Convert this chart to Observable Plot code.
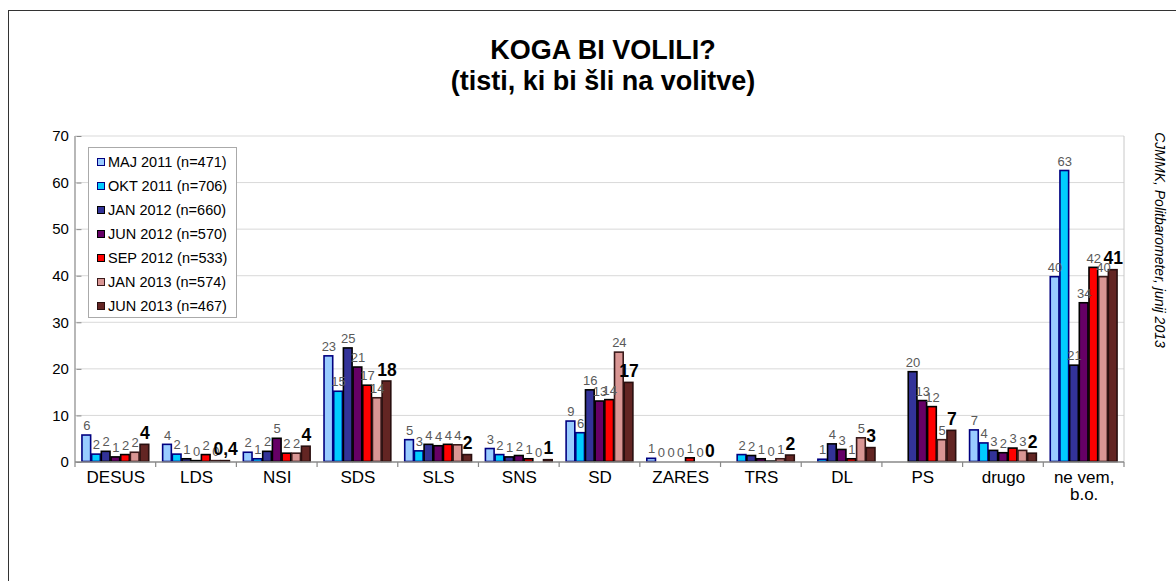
<!DOCTYPE html>
<html>
<head>
<meta charset="utf-8">
<script src="https://cdn.jsdelivr.net/npm/d3@7"></script>
<script src="https://cdn.jsdelivr.net/npm/@observablehq/plot@0.6"></script>
<style>
  body { margin: 0; background: #fff; font-family: "Liberation Sans", Arial, sans-serif; }
  #wrap { position: relative; width: 1176px; height: 581px; overflow: hidden; }
  #border { position: absolute; left: 8px; top: 10px; width: 1200px; height: 600px; border: 1px solid #333; }
  .title { position: absolute; left: 0; width: 1206px; text-align: center; font-weight: bold; font-size: 27px; color: #000; line-height: 30px; }
  #chart { position: absolute; left: 0; top: 0; }
  #legend { position: absolute; left: 88px; top: 147px; width: 149px; height: 171px; background: #fff; border: 1px solid #aaa; box-sizing: border-box; padding: 2px 0 0 8px; }
  .li { height: 24px; display: flex; align-items: center; font-size: 14.5px; color: #000; white-space: nowrap; }
  .sw { width: 6px; height: 6px; margin-right: 3px; border: 1.5px solid #000; flex: none; }
  #source { position: absolute; left: 1160px; top: 240px; transform: translate(-50%, -50%) rotate(90deg); white-space: nowrap; font-size: 14px; font-style: italic; color: #000; }
</style>
</head>
<body>
<div id="wrap">
  <div id="border"></div>
  <div id="chart"></div>
  <div class="title" style="top:35px">KOGA BI VOLILI?</div>
  <div class="title" style="top:66px">(tisti, ki bi šli na volitve)</div>
  <div id="legend"></div>
  <div id="source">CJMMK, Politbarometer, junij 2013</div>
</div>
<script>
const parties = ["DESUS", "LDS", "NSI", "SDS", "SLS", "SNS", "SD", "ZARES", "TRS", "DL", "PS", "drugo", "ne vem, b.o."];
const series = ["MAJ 2011 (n=471)", "OKT 2011 (n=706)", "JAN 2012 (n=660)", "JUN 2012 (n=570)", "SEP 2012 (n=533)", "JAN 2013 (n=574)", "JUN 2013 (n=467)"];

const maj2011 = [5.9, 3.9, 2.2, 22.9, 4.9, 3.0, 8.9, 0.9, null, null, null, 7.0, 39.9];
const okt2011 = [1.8, 1.8, 0.8, 15.3, 2.5, 1.7, 6.4, 0.2, 1.7, 0.7, null, 4.2, 62.7];
const jan2012 = [2.4, 0.8, 2.4, 24.6, 3.9, 1.2, 15.6, 0.1, 1.5, 4.0, 19.5, 2.6, 20.9];
const jun2012 = [1.2, 0.4, 5.2, 20.5, 3.6, 1.5, 13.2, 0.1, 0.8, 2.8, 13.3, 2.1, 34.3];
const sep2012 = [1.7, 1.7, 2.0, 16.6, 3.9, 0.8, 13.5, 1.0, 0.3, 0.8, 12.0, 3.1, 41.9];
const jan2013 = [2.2, 0.4, 2.0, 13.9, 3.8, 0.2, 23.7, 0.1, 0.8, 5.3, 4.9, 2.6, 39.9];
const jun2013 = [3.9, 0.4, 3.5, 17.5, 1.7, 0.6, 17.2, 0.0, 1.6, 3.2, 6.9, 2.0, 41.4];

const yTicks = [0, 10, 20, 30, 40, 50, 60, 70];
const fills = ["#99ccff", "#00ccff", "#333399", "#660066", "#ff0000", "#d99694", "#632523"];
const strokes = ["#000080", "#000080", "#000000", "#000000", "#000000", "#3a1a1a", "#2a0f0f"];

const seriesValues = [maj2011, okt2011, jan2012, jun2012, sep2012, jan2013, jun2013];
const data = [];
series.forEach((s, si) => {
  parties.forEach((p, pi) => {
    const v = seriesValues[si][pi];
    if (v != null) data.push({party: p, series: s, value: v, si});
  });
});
const lastSeries = series[series.length - 1];
const fmt = d => (d.series === lastSeries && d.value > 0 && d.value < 0.5)
  ? d3.format(".1f")(d.value).replace(".", ",")
  : String(Math.round(d.value));

const plot = Plot.plot({
  width: 1176,
  height: 530,
  marginTop: 136,
  marginBottom: 68,
  marginLeft: 75,
  marginRight: 52,
  style: {fontFamily: "'Liberation Sans', Arial, sans-serif", background: "transparent"},
  fx: {domain: parties, paddingInner: 0.16, paddingOuter: 0.08, round: false, label: null},
  x: {domain: series, padding: 0, round: false, axis: null},
  y: {domain: [0, 70], ticks: yTicks, label: null},
  color: {domain: series, range: fills},
  marks: [
    Plot.axisY({ticks: yTicks, tickSize: 5, tickPadding: 8, fontSize: 15, fill: "#000", stroke: "#888"}),
    Plot.axisFx({anchor: "bottom", tickSize: 0, tickPadding: 8, fontSize: 17, fill: "#000", lineHeight: 1.0,
      tickFormat: d => d === "ne vem, b.o." ? "ne vem,\nb.o." : d}),
    Plot.barY(data, {fx: "party", x: "series", y: "value", fill: "series",
      stroke: d => strokes[d.si], strokeWidth: 1.6, inset: 0.5}),
    Plot.text(data.filter(d => d.series !== lastSeries), {fx: "party", x: "series", y: "value", text: fmt,
      dy: -9, fill: "#595959", fontSize: 13}),
    Plot.text(data.filter(d => d.series === lastSeries), {fx: "party", x: "series", y: "value", text: fmt,
      dy: -11, fill: "#000", fontSize: 17.5, fontWeight: "bold"})
  ]
});
document.getElementById("chart").appendChild(plot);

// continuous gridlines, plot-area border and axis lines drawn from the plot's scales
const fxs = plot.scale("fx");
const ys = plot.scale("y");
const left = fxs.range[0], right = fxs.range[1];
const y0 = ys.apply(0), yTop = ys.apply(70);
const svg = d3.select(plot);
const back = svg.insert("g", "g");
back.selectAll("line").data(yTicks.filter(t => t > 0)).join("line")
  .attr("x1", left).attr("x2", right)
  .attr("y1", d => ys.apply(d)).attr("y2", d => ys.apply(d))
  .attr("stroke", "#d9d9d9").attr("stroke-width", 1);
back.append("line").attr("x1", right).attr("x2", right).attr("y1", yTop).attr("y2", y0)
  .attr("stroke", "#c8c8c8").attr("stroke-width", 1);
const front = svg.append("g");
front.append("line").attr("x1", left).attr("x2", right).attr("y1", y0).attr("y2", y0)
  .attr("stroke", "#888").attr("stroke-width", 1.5);
front.append("line").attr("x1", left).attr("x2", left).attr("y1", yTop).attr("y2", y0)
  .attr("stroke", "#888").attr("stroke-width", 1.2);
// group-boundary tick marks on the category axis
const gap = fxs.step - fxs.bandwidth;
const bounds = parties.map(p => fxs.apply(p) - gap / 2);
bounds.push(fxs.apply(parties[parties.length - 1]) + fxs.bandwidth + gap / 2);
front.selectAll("line.t").data(bounds).join("line").attr("class", "t")
  .attr("x1", d => d).attr("x2", d => d)
  .attr("y1", y0).attr("y2", y0 + 5)
  .attr("stroke", "#888").attr("stroke-width", 1.2);

// legend
const leg = d3.select("#legend");
series.forEach((s, i) => {
  const row = leg.append("div").attr("class", "li");
  row.append("div").attr("class", "sw").style("background", fills[i]).style("border-color", strokes[i]);
  row.append("span").text(s);
});
</script>
</body>
</html>
